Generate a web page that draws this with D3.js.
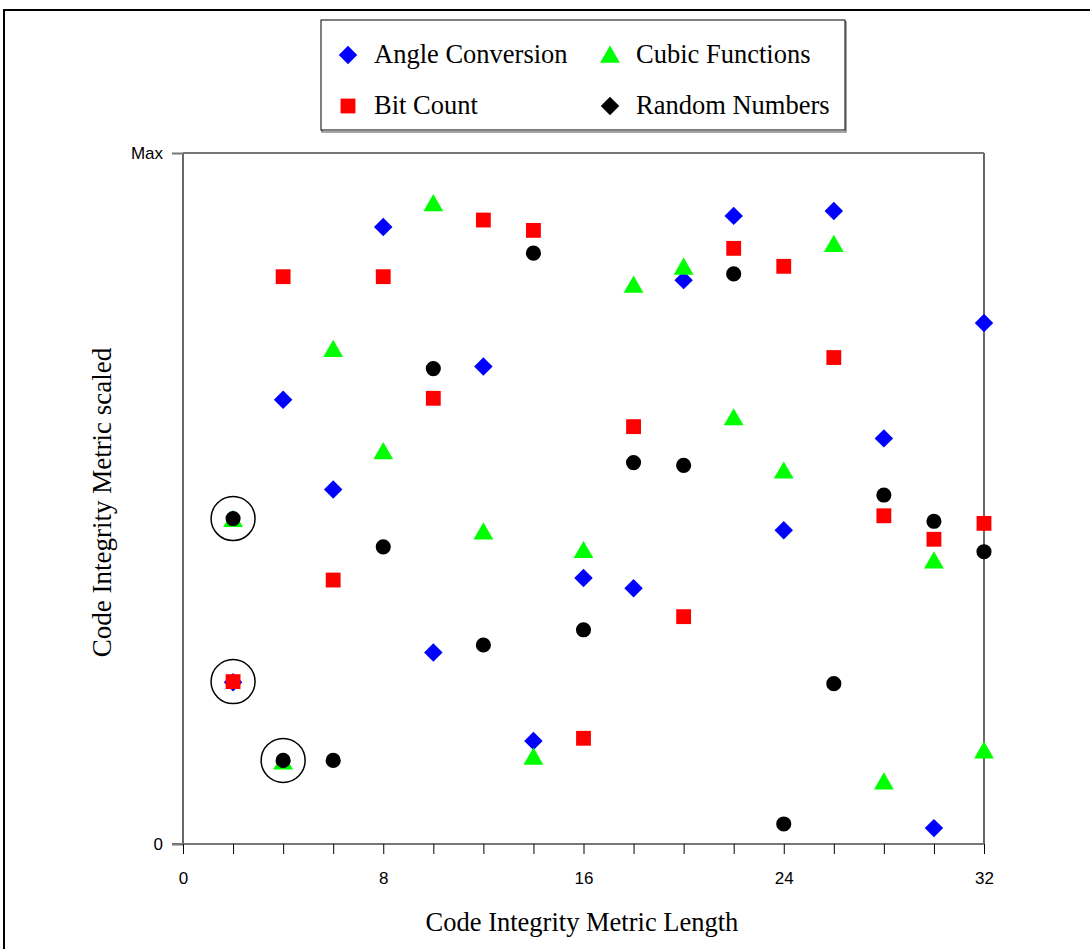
<!DOCTYPE html>
<html>
<head>
<meta charset="utf-8">
<script src="https://cdn.jsdelivr.net/npm/d3@7"></script>
<style>
  body { margin: 0; background: #fff; }
  svg { display: block; }
</style>
</head>
<body>
<div id="chart"></div>
<script>
// metric length on x, scaled value (0..Max == 0..100) on y
const lengths = [2, 4, 6, 8, 10, 12, 14, 16, 18, 20, 22, 24, 26, 28, 30, 32];

const angleConversion = [23.4, 64.3, 51.3, 89.3, 27.7, 69.1, 14.9, 38.5, 37.0, 81.6, 90.9, 45.4, 91.6, 58.7, 2.3, 75.4];
const bitCount        = [23.5, 82.1, 38.2, 82.1, 64.5, 90.3, 88.8, 15.3, 60.4, 32.9, 86.2, 83.6, 70.4, 47.5, 44.1, 46.4];
const cubicFunctions  = [47.0, 11.9, 71.6, 56.8, 92.7, 45.2, 12.6, 42.5, 80.9, 83.5, 61.7, 54.0, 86.8, 9.0, 41.0, 13.5];
const randomNumbers   = [47.1, 12.1, 12.1, 43.0, 68.8, 28.8, 85.5, 31.0, 55.2, 54.8, 82.5, 2.9, 23.2, 50.5, 46.7, 42.3];

// points that are ringed in the original
const circled = [
    { series: "Random Numbers", x: 2 },
    { series: "Bit Count", x: 2 },
    { series: "Random Numbers", x: 4 }
];

const series = [
    { name: "Angle Conversion", values: angleConversion, color: "#0000ff", shape: "diamond" },
    { name: "Bit Count",        values: bitCount,        color: "#ff0000", shape: "square" },
    { name: "Cubic Functions",  values: cubicFunctions,  color: "#00ff00", shape: "triangle" },
    { name: "Random Numbers",   values: randomNumbers,   color: "#000000", shape: "circle" }
];

const width = 1090, height = 949;
const serif = "'Liberation Serif', 'Times New Roman', serif";
const sans = "'Liberation Sans', Arial, sans-serif";

const svg = d3.select("#chart").append("svg")
    .attr("width", width)
    .attr("height", height);

// outer frame
svg.append("rect")
    .attr("x", 4).attr("y", 10)
    .attr("width", 1100).attr("height", 960)
    .attr("fill", "none")
    .attr("stroke", "#000")
    .attr("stroke-width", 2);

const x = d3.scaleLinear().domain([0, 32]).range([183, 984]);
const y = d3.scaleLinear().domain([0, 100]).range([844, 153]);

// plot sides
svg.append("line")
    .attr("x1", x(0)).attr("x2", x(0))
    .attr("y1", y(100)).attr("y2", y(0))
    .attr("stroke", "#000").attr("stroke-width", 1.2);
svg.append("line")
    .attr("x1", x(32)).attr("x2", x(32))
    .attr("y1", y(100)).attr("y2", y(0))
    .attr("stroke", "#000").attr("stroke-width", 1.2);
svg.append("line")
    .attr("x1", x(0)).attr("x2", x(32))
    .attr("y1", y(100)).attr("y2", y(100))
    .attr("stroke", "#777").attr("stroke-width", 2);

// x axis
const xAxis = svg.append("g")
    .attr("transform", `translate(0,${y(0)})`)
    .call(d3.axisBottom(x)
        .tickValues(d3.range(0, 33, 2))
        .tickFormat(d => d % 8 === 0 ? d : "")
        .tickSize(10)
        .tickPadding(18));
xAxis.select(".domain").attr("stroke", "#777").attr("stroke-width", 2)
    .attr("d", `M${x(0) - 11},0H${x(32)}`);
xAxis.selectAll(".tick line").attr("stroke", "#000");
xAxis.selectAll("text").style("font-family", sans).style("font-size", "17px").attr("fill", "#000");

// y axis
const yAxis = svg.append("g")
    .attr("transform", `translate(${x(0)},0)`)
    .call(d3.axisLeft(y)
        .tickValues([0, 100])
        .tickFormat(d => d === 100 ? "Max" : "0")
        .tickSize(11)
        .tickPadding(9));
yAxis.select(".domain").remove();
yAxis.selectAll(".tick line").attr("stroke", "#777").attr("stroke-width", 2);
yAxis.selectAll("text").style("font-family", sans).style("font-size", "17px").attr("fill", "#000");

// axis titles
svg.append("text")
    .attr("x", 582).attr("y", 931)
    .attr("text-anchor", "middle")
    .style("font-family", serif).style("font-size", "26.5px")
    .text("Code Integrity Metric Length");

svg.append("text")
    .attr("transform", `translate(111,${(y(0) + y(100)) / 2 + 4}) rotate(-90)`)
    .attr("text-anchor", "middle")
    .style("font-family", serif).style("font-size", "27px")
    .text("Code Integrity Metric scaled");

const symbolFor = {
    diamond: d3.symbol().type(d3.symbolSquare).size(170),
    square: d3.symbol().type(d3.symbolSquare).size(220),
    triangle: d3.symbol().type(d3.symbolTriangle).size(170),
    circle: d3.symbol().type(d3.symbolCircle).size(180)
};

function drawMarker(g, shape, color, cx, cy) {
    const p = g.append("path")
        .attr("d", symbolFor[shape]())
        .attr("fill", color);
    if (shape === "diamond") p.attr("transform", `translate(${cx},${cy}) rotate(45)`);
    else if (shape === "triangle") p.attr("transform", `translate(${cx},${cy + 2})`);
    else p.attr("transform", `translate(${cx},${cy})`);
    return p;
}

const marks = svg.append("g");
series.forEach(s => {
    const g = marks.append("g").attr("class", "series");
    s.values.forEach((v, i) => drawMarker(g, s.shape, s.color, x(lengths[i]), y(v)));
});

// rings around highlighted points
svg.append("g").selectAll("circle")
    .data(circled)
    .join("circle")
    .attr("cx", d => x(d.x))
    .attr("cy", d => {
        const s = series.find(t => t.name === d.series);
        return y(s.values[lengths.indexOf(d.x)]);
    })
    .attr("r", 22)
    .attr("fill", "none")
    .attr("stroke", "#000")
    .attr("stroke-width", 1.5);

// legend
const legend = svg.append("g");
legend.append("rect")
    .attr("x", 322).attr("y", 22)
    .attr("width", 524).attr("height", 110)
    .attr("fill", "none").attr("stroke", "#888").attr("stroke-width", 1.5);
legend.append("rect")
    .attr("x", 321).attr("y", 20)
    .attr("width", 524).attr("height", 110)
    .attr("fill", "#fff").attr("stroke", "#000").attr("stroke-width", 1);

const legendItems = [
    { s: series[0], col: 0, row: 0 },
    { s: series[2], col: 1, row: 0 },
    { s: series[1], col: 0, row: 1 },
    { s: series[3], col: 1, row: 1, shape: "diamond" }
];
legendItems.forEach(d => {
    const lx = 348 + d.col * 262, ly = 55 + d.row * 51;
    drawMarker(legend, d.shape || d.s.shape, d.s.color, lx, ly);
    legend.append("text")
        .attr("x", lx + 26).attr("y", ly + 8)
        .style("font-family", serif).style("font-size", "26.5px")
        .text(d.s.name);
});
</script>
</body>
</html>
